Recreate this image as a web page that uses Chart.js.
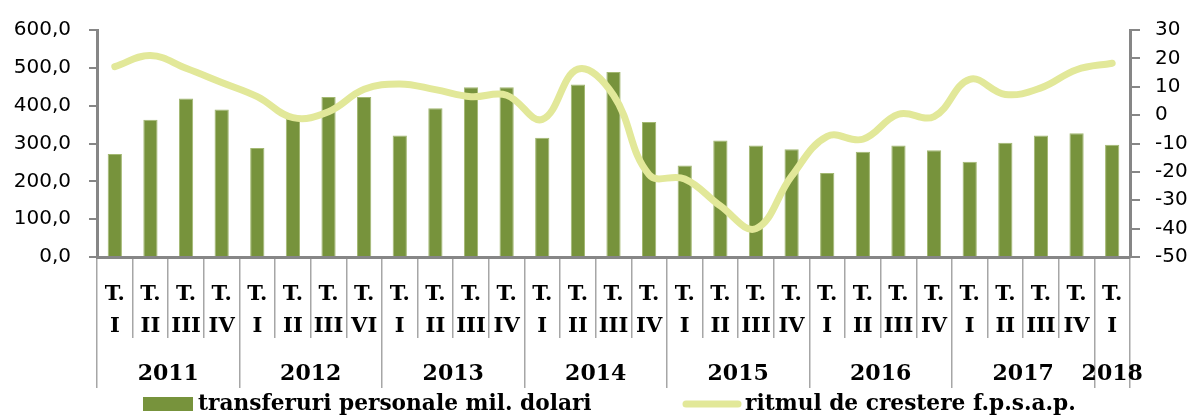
<!DOCTYPE html>
<html>
<head>
<meta charset="utf-8">
<script src="https://cdn.jsdelivr.net/npm/chart.js@4"></script>
<style>
  html, body { margin: 0; padding: 0; background: #fff; }
  #wrap { width: 1192px; height: 416px; }
</style>
</head>
<body>
<div id="wrap"><canvas id="c" width="1192" height="416"></canvas></div>
<script>
// ---- data ----
const quarterLabels = [
  ['T.','I'],['T.','II'],['T.','III'],['T.','IV'],
  ['T.','I'],['T.','II'],['T.','III'],['T.','VI'],
  ['T.','I'],['T.','II'],['T.','III'],['T.','IV'],
  ['T.','I'],['T.','II'],['T.','III'],['T.','IV'],
  ['T.','I'],['T.','II'],['T.','III'],['T.','IV'],
  ['T.','I'],['T.','II'],['T.','III'],['T.','IV'],
  ['T.','I'],['T.','II'],['T.','III'],['T.','IV'],
  ['T.','I']
];
const years = ['2011','2012','2013','2014','2015','2016','2017','2018'];
const quartersPerYear = [4,4,4,4,4,4,4,1];
const transfers = [272, 363, 419, 390, 288, 365, 423, 423, 321, 393, 449, 449, 315, 456, 489, 357, 242, 308, 295, 285, 222, 278, 295, 282, 252, 302, 321, 327, 297];
const growth = [17.1, 21.0, 16.5, 11.5, 6.5, -0.9, 1.2, 9.1, 11.0, 9.0, 6.5, 7.0, -1.5, 16.2, 7.0, -21.0, -22.5, -32.0, -40.0, -21.5, -7.5, -8.5, 0.3, -0.5, 12.6, 7.3, 9.6, 16.0, 18.3];
const seriesNames = ['transferuri personale mil. dolari', 'ritmul de crestere f.p.s.a.p.'];
const leftTicks = { min: 0, max: 600, step: 100 };
const rightTicks = { min: -50, max: 30, step: 10 };

// ---- derived year group ticks ----
const boundaries = [0];
const centers = [];
let acc = 0;
quartersPerYear.forEach(n => { centers.push(acc + n / 2); acc += n; boundaries.push(acc); });
const yearTickValues = [...new Set([...boundaries, ...centers])].sort((a, b) => a - b);

const BAR_COLOR = '#77933c';
const LINE_COLOR = '#e2e899';
const AXIS_COLOR = '#868686';
const SEP_COLOR = '#a6a6a6';
const SERIF = "'DejaVu Serif', serif";
const SANS = "'DejaVu Sans', sans-serif";

const legendPlugin = {
  id: 'customLegend',
  afterDraw(chart) {
    const ctx = chart.ctx;
    const ds = chart.data.datasets;
    ctx.save();
    ctx.font = "bold 21.7px " + SERIF;
    ctx.fillStyle = '#000';
    ctx.textBaseline = 'middle';
    const y = 404;
    // bar item
    ctx.fillStyle = ds[0].backgroundColor;
    ctx.fillRect(143, 397, 50, 14);
    ctx.fillStyle = '#000';
    ctx.fillText(ds[0].label, 198, y);
    // line item
    ctx.strokeStyle = ds[1].borderColor;
    ctx.lineWidth = 7;
    ctx.lineCap = 'round';
    ctx.beginPath();
    ctx.moveTo(686, y);
    ctx.lineTo(738, y);
    ctx.stroke();
    ctx.fillText(ds[1].label, 745, y);
    ctx.restore();
  }
};

const fmt = v => Number(v).toFixed(1).replace('.', ',');

new Chart(document.getElementById('c'), {
  data: {
    labels: quarterLabels,
    datasets: [
      {
        type: 'bar',
        label: seriesNames[0],
        data: transfers,
        backgroundColor: BAR_COLOR,
        borderColor: '#a3b872',
        borderWidth: 1,
        categoryPercentage: 1.0,
        barPercentage: 0.4,
        yAxisID: 'y',
        xAxisID: 'x',
        order: 2
      },
      {
        type: 'line',
        label: seriesNames[1],
        data: growth,
        borderColor: LINE_COLOR,
        backgroundColor: LINE_COLOR,
        borderWidth: 7,
        tension: 0.4,
        pointRadius: 0,
        borderCapStyle: 'round',
        yAxisID: 'y1',
        xAxisID: 'x',
        order: 1
      }
    ]
  },
  options: {
    responsive: false,
    animation: false,
    layout: { padding: { top: 23, bottom: 28, left: 0, right: 0 } },
    plugins: { legend: { display: false }, tooltip: { enabled: false } },
    scales: {
      x: {
        type: 'category',
        position: 'bottom',
        weight: 0,
        offset: true,
        grid: { display: true, offset: true, drawOnChartArea: false, drawTicks: true, tickLength: 81, color: SEP_COLOR, lineWidth: 1.5 },
        border: { display: true, color: AXIS_COLOR, width: 3 },
        ticks: { autoSkip: false, maxRotation: 0, minRotation: 0, padding: -59, color: '#000', font: { family: SERIF, size: 21, weight: 'bold', lineHeight: 1.52 } },
        afterFit(s) { s.height = 81; }
      },
      x2: {
        type: 'linear',
        position: 'bottom',
        weight: 1,
        min: 0,
        max: quarterLabels.length,
        afterBuildTicks(s) { s.ticks = yearTickValues.map(v => ({ value: v })); },
        grid: {
          display: true, drawOnChartArea: false, drawTicks: true, tickLength: 50, lineWidth: 1.5,
          color: c => (c.tick && boundaries.includes(c.tick.value)) ? SEP_COLOR : 'rgba(0,0,0,0)'
        },
        border: { display: false },
        ticks: {
          autoSkip: false, maxRotation: 0, minRotation: 0, padding: -27, color: '#000',
          font: { family: SERIF, size: 22, weight: 'bold' },
          callback: (v) => { const i = centers.indexOf(v); return i >= 0 ? years[i] : ''; }
        },
        afterFit(s) { s.height = 50; }
      },
      y: {
        type: 'linear',
        position: 'left',
        min: leftTicks.min, max: leftTicks.max,
        ticks: { stepSize: leftTicks.step, callback: fmt, color: '#000', padding: 18, font: { family: SANS, size: 20 } },
        grid: { drawOnChartArea: false, drawTicks: true, tickLength: 8, color: AXIS_COLOR, lineWidth: 2 },
        border: { display: true, color: AXIS_COLOR, width: 3 },
        afterFit(s) { s.width = 97; }
      },
      y1: {
        type: 'linear',
        position: 'right',
        min: rightTicks.min, max: rightTicks.max,
        ticks: { stepSize: rightTicks.step, color: '#000', padding: 15, font: { family: SANS, size: 20 } },
        grid: { drawOnChartArea: false, drawTicks: true, tickLength: 10, color: AXIS_COLOR, lineWidth: 2 },
        border: { display: true, color: AXIS_COLOR, width: 3 },
        afterFit(s) { s.width = 62; }
      }
    }
  },
  plugins: [legendPlugin]
});
</script>
</body>
</html>
